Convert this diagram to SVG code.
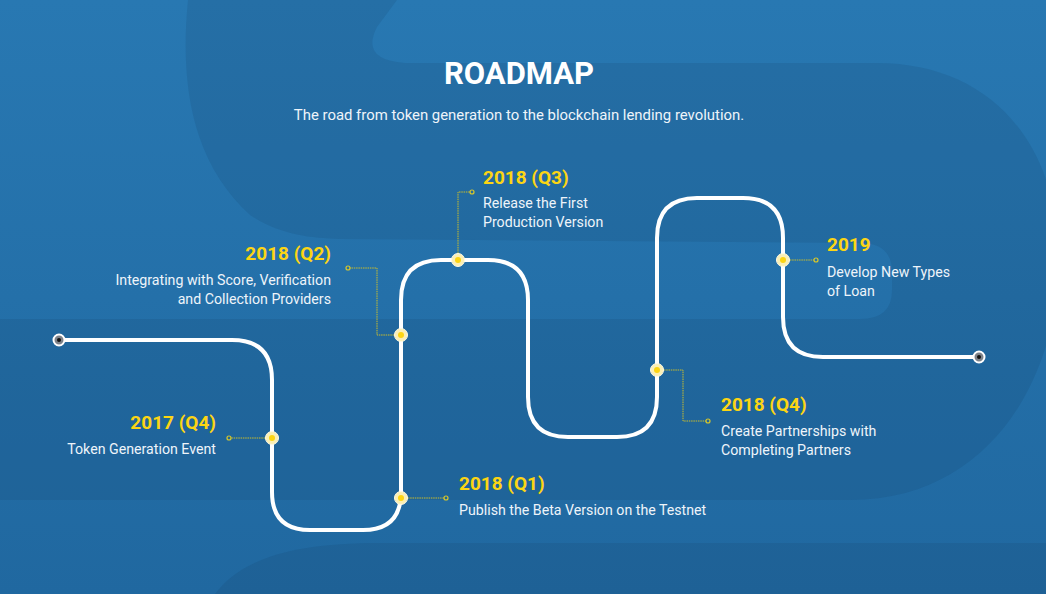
<svg xmlns="http://www.w3.org/2000/svg" width="1046" height="594" viewBox="0 0 1046 594">
<defs>
<linearGradient id="bg" x1="0" y1="0" x2="0" y2="1">
<stop offset="0" stop-color="#2878b2"/>
<stop offset="1" stop-color="#2068a0"/>
</linearGradient>
<style>
.shade{fill:#0f3556;fill-opacity:0.12}
.road{fill:none;stroke:#ffffff;stroke-width:4;stroke-linecap:round}
.conn{fill:none;stroke:#c9bd2c;stroke-width:1;stroke-dasharray:1.5 0.8}
.tip{fill:none;stroke:#d8c82a;stroke-width:1.2}
.mo{fill:#fbefb4;stroke:#fffbe6;stroke-width:1}
.mi{fill:#fcd513}
.eo{fill:#7d8289;stroke:#ffffff;stroke-width:2}
.ei{fill:#111}
.yr{font-family:Roboto,"Liberation Sans",sans-serif;font-weight:700;font-size:19px;fill:#fcd513}
.ds{font-family:Roboto,"Liberation Sans",sans-serif;font-size:14.2px;fill:#eef4fa}
</style>
</defs>
<g id="background">
<rect width="1046" height="594" fill="url(#bg)"/>
<path class="shade" d="M188,0 L397,0 L377,27 Q360,60 405,63 L877,63 C980,63 1050,130 1058,240 C1066,360 1000,500 850,500 L0,500 L0,319 L860,319 Q892,319 892,290 L892,272 Q892,243 860,243 L340,239 C310,238 280,235 250,215 C190,160 180,80 188,0 Z"/>
<path class="shade" d="M215,594 C240,560 290,543 380,543 L1046,543 L1046,594 Z"/>
</g>
<g id="header">
<text x="519" y="84" text-anchor="middle" font-family="Roboto,'Liberation Sans',sans-serif" font-weight="700" font-size="31" fill="#ffffff">ROADMAP</text>
<text x="519" y="120" text-anchor="middle" font-family="Roboto,'Liberation Sans',sans-serif" font-size="14.9" fill="#eef4fa">The road from token generation to the blockchain lending revolution.</text>
</g>
<g id="connectors">
<path class="road" d="M59,340 L232,340 Q272,340 272,380 L272,492 Q272,530 310,530 L363,530 Q401,530 401,492 L401,300 Q401,260 441,260 L488,260 Q528,260 528,300 L528,397 Q528,437 568,437 L617,437 Q657,437 657,397 L657,238 Q657,198 697,198 L743,198 Q783,198 783,238 L783,317 Q783,357 823,357 L979,357"/>
<path class="conn" d="M272,438 L231,438"/>
<path class="conn" d="M401,498 L444,498"/>
<path class="conn" d="M401,335 L377,335 L377,268 L350,268"/>
<path class="conn" d="M458,260 L458,192 L470,192"/>
<path class="conn" d="M657,370 L683,370 L683,421 L706,421"/>
<path class="conn" d="M783,260 L814,260"/>
<circle class="tip" cx="229" cy="438" r="2"/>
<circle class="tip" cx="446" cy="498" r="2"/>
<circle class="tip" cx="348" cy="268" r="2"/>
<circle class="tip" cx="472" cy="192" r="2"/>
<circle class="tip" cx="708" cy="421" r="2"/>
<circle class="tip" cx="816" cy="260" r="2"/>
</g>
<g id="start"><circle class="eo" cx="59" cy="340" r="5.5"/><circle class="ei" cx="59" cy="340" r="2"/></g>
<g id="end"><circle class="eo" cx="979" cy="357" r="5.5"/><circle class="ei" cx="979" cy="357" r="2"/></g>
<g id="m2017q4">
<circle class="mo" cx="272" cy="438" r="6.5"/><circle class="mi" cx="272" cy="438" r="3"/>
<text class="yr" x="216" y="429" text-anchor="end">2017 (Q4)</text>
<text class="ds" x="216" y="454" text-anchor="end">Token Generation Event</text>
</g>
<g id="m2018q1">
<circle class="mo" cx="401" cy="498" r="6.5"/><circle class="mi" cx="401" cy="498" r="3"/>
<text class="yr" x="459" y="490">2018 (Q1)</text>
<text class="ds" x="459" y="515">Publish the Beta Version on the Testnet</text>
</g>
<g id="m2018q2">
<circle class="mo" cx="401" cy="335" r="6.5"/><circle class="mi" cx="401" cy="335" r="3"/>
<text class="yr" x="331" y="260" text-anchor="end">2018 (Q2)</text>
<text class="ds" x="331" y="285" text-anchor="end">Integrating with Score, Verification</text>
<text class="ds" x="331" y="304" text-anchor="end">and Collection Providers</text>
</g>
<g id="m2018q3">
<circle class="mo" cx="458" cy="260" r="6.5"/><circle class="mi" cx="458" cy="260" r="3"/>
<text class="yr" x="483" y="184">2018 (Q3)</text>
<text class="ds" x="483" y="208">Release the First</text>
<text class="ds" x="483" y="227">Production Version</text>
</g>
<g id="m2018q4">
<circle class="mo" cx="657" cy="370" r="6.5"/><circle class="mi" cx="657" cy="370" r="3"/>
<text class="yr" x="721" y="411">2018 (Q4)</text>
<text class="ds" x="721" y="436">Create Partnerships with</text>
<text class="ds" x="721" y="455">Completing Partners</text>
</g>
<g id="m2019">
<circle class="mo" cx="783" cy="260" r="6.5"/><circle class="mi" cx="783" cy="260" r="3"/>
<text class="yr" x="827" y="251">2019</text>
<text class="ds" x="827" y="277">Develop New Types</text>
<text class="ds" x="827" y="296">of Loan</text>
</g>
</svg>
